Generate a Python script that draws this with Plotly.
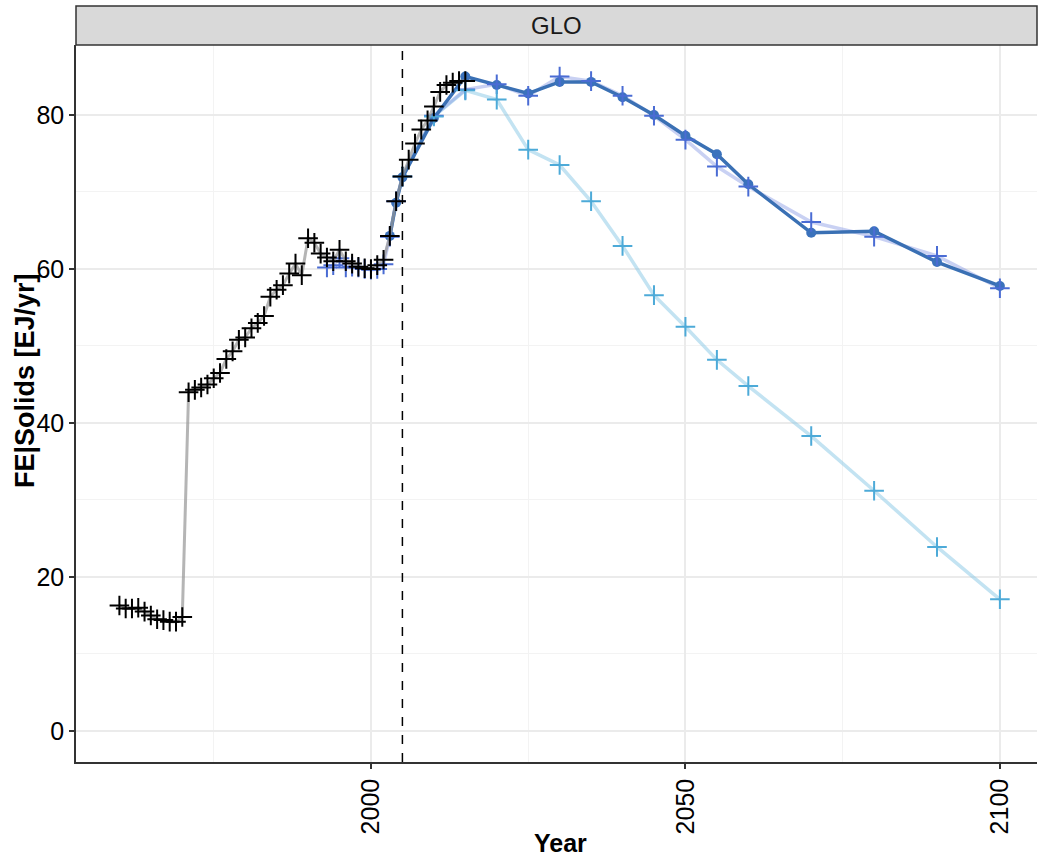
import plotly.graph_objects as go

# ---------------- data ----------------
hist_years = list(range(1960, 2016))
hist_values = [16.3, 15.9, 15.9, 16.0, 15.5, 15.0, 14.5, 14.4, 14.2, 14.2,
               14.8, 44.0, 44.3, 44.6, 45.0, 45.8, 46.5, 48.3, 49.3, 50.8,
               51.1, 52.3, 53.0, 53.9, 56.4, 57.3, 57.9, 59.4, 60.7, 59.2,
               64.0, 63.4, 62.0, 61.5, 61.0, 62.5, 61.0, 60.7, 60.3, 60.1,
               60.0, 60.5, 61.2, 64.3, 68.8, 72.0, 74.2, 76.3, 78.1, 79.3,
               81.1, 83.0, 83.9, 84.2, 84.4, 84.4]

a_years = [1993, 1994, 1995, 1996, 1997, 1998, 1999, 2000, 2001, 2002, 2003, 2004,
           2005, 2010, 2015, 2020, 2025, 2030, 2035, 2040, 2045, 2050, 2055, 2060,
           2070, 2080, 2090, 2100]
a_values = [60.2, 60.5, 61.4, 60.2, 60.3, 60.2, 60.0, 59.9, 60.0, 60.6, 64.2, 68.8,
            72.0, 79.9, 83.3, 84.0, 82.5, 85.0, 84.4, 82.5, 79.9, 76.8, 73.3, 70.7,
            66.1, 64.2, 61.7, 57.5]

b_years = [2005, 2010, 2015, 2020, 2025, 2030, 2035, 2040, 2045, 2050, 2055, 2060,
           2070, 2080, 2090, 2100]
b_values = [72.0, 79.8, 83.2, 82.0, 75.5, 73.5, 68.8, 63.0, 56.6, 52.5, 48.2, 44.8,
            38.3, 31.2, 23.9, 17.1]

c_years = [2003, 2004, 2005, 2010, 2015, 2020, 2025, 2030, 2035, 2040, 2045, 2050,
           2055, 2060, 2070, 2080, 2090, 2100]
c_values = [64.3, 68.6, 71.9, 79.6, 85.0, 83.9, 82.8, 84.3, 84.3, 82.3, 80.0, 77.3,
            74.9, 71.0, 64.7, 64.9, 60.9, 57.8]

x_ticks = [2000, 2050, 2100]
y_ticks = [0, 20, 40, 60, 80]
panel_label = "GLO"
x_title = "Year"
y_title = "FE|Solids [EJ/yr]"
ref_year = 2005

# ---------------- figure ----------------
fig = go.Figure()

# lines
fig.add_trace(go.Scatter(x=b_years, y=b_values, mode="lines",
                         line=dict(color="rgba(135,200,230,0.5)", width=3.5),
                         showlegend=False, hoverinfo="skip"))
fig.add_trace(go.Scatter(x=a_years, y=a_values, mode="lines",
                         line=dict(color="rgba(120,140,225,0.4)", width=3.5),
                         showlegend=False, hoverinfo="skip"))
fig.add_trace(go.Scatter(x=c_years, y=c_values, mode="lines+markers",
                         line=dict(color="#3a70b4", width=3.5),
                         marker=dict(symbol="circle", size=10, color="#3b72bc"),
                         showlegend=False))
# crosses
fig.add_trace(go.Scatter(x=a_years, y=a_values, mode="markers",
                         marker=dict(symbol="cross-thin", size=14,
                                     line=dict(color="#4a6cd4", width=2)),
                         showlegend=False))
fig.add_trace(go.Scatter(x=b_years, y=b_values, mode="markers",
                         marker=dict(symbol="cross-thin", size=14,
                                     line=dict(color="#4daad8", width=2)),
                         showlegend=False))
# historical
fig.add_trace(go.Scatter(x=hist_years, y=hist_values, mode="lines",
                         line=dict(color="rgba(150,150,150,0.7)", width=3),
                         showlegend=False, hoverinfo="skip"))
fig.add_trace(go.Scatter(x=hist_years, y=hist_values, mode="markers",
                         marker=dict(symbol="cross-thin", size=14,
                                     line=dict(color="black", width=2)),
                         showlegend=False))

# reference year dashed line
fig.add_vline(x=ref_year, line=dict(color="black", width=1.5, dash="dash"))

# facet strip
fig.add_shape(type="rect", xref="paper", yref="paper", x0=0, x1=1,
              y0=1.0, y1=1.0544, fillcolor="#d9d9d9",
              line=dict(color="#333333", width=1.5), layer="above")
fig.add_annotation(text=panel_label, xref="paper", yref="paper", x=0.5, y=1.0272,
                   xanchor="center", yanchor="middle",
                   showarrow=False, font=dict(size=24, color="#1a1a1a"))

# axis titles
fig.add_annotation(text="<b>" + y_title + "</b>", xref="paper", yref="paper",
                   x=(25 - 76) / 961, y=(762 - 381) / 717, textangle=-90,
                   xanchor="center", yanchor="middle", showarrow=False,
                   font=dict(size=27, color="black"))
fig.add_annotation(text="<b>" + x_title + "</b>", xref="paper", yref="paper",
                   x=(560 - 76) / 961, y=(762 - 843) / 717,
                   xanchor="center", yanchor="middle", showarrow=False,
                   font=dict(size=25, color="black"))

fig.update_layout(
    width=1038, height=862,
    margin=dict(l=76, r=1, t=45, b=100),
    paper_bgcolor="white", plot_bgcolor="white",
    font=dict(family="Liberation Sans", color="black"),
    xaxis=dict(range=[1953.1, 2105.9], tickvals=x_ticks,
               ticktext=[str(v) for v in x_ticks], tickangle=-90,
               tickfont=dict(size=25, color="black"),
               showgrid=True, gridcolor="#ebebeb", gridwidth=1.5,
               minor=dict(dtick=25, tick0=2000, showgrid=True,
                          gridcolor="#f3f3f3", gridwidth=1),
               showline=True, linecolor="#333333", linewidth=1.5,
               ticks="outside", ticklen=5, tickcolor="#333333", tickwidth=1.5,
               zeroline=False, automargin=False),
    yaxis=dict(range=[-4.03, 89.09], tickvals=y_ticks,
               tickfont=dict(size=25, color="black"),
               showgrid=True, gridcolor="#ebebeb", gridwidth=1.5,
               minor=dict(dtick=10, tick0=0, showgrid=True,
                          gridcolor="#f3f3f3", gridwidth=1),
               showline=True, linecolor="#333333", linewidth=1.5,
               ticks="outside", ticklen=5, tickcolor="#333333", tickwidth=1.5,
               zeroline=False, automargin=False),
)

fig.write_html("out.html", config={"displayModeBar": False},
               post_script="document.body.style.margin='0';document.body.style.overflow='hidden';")
